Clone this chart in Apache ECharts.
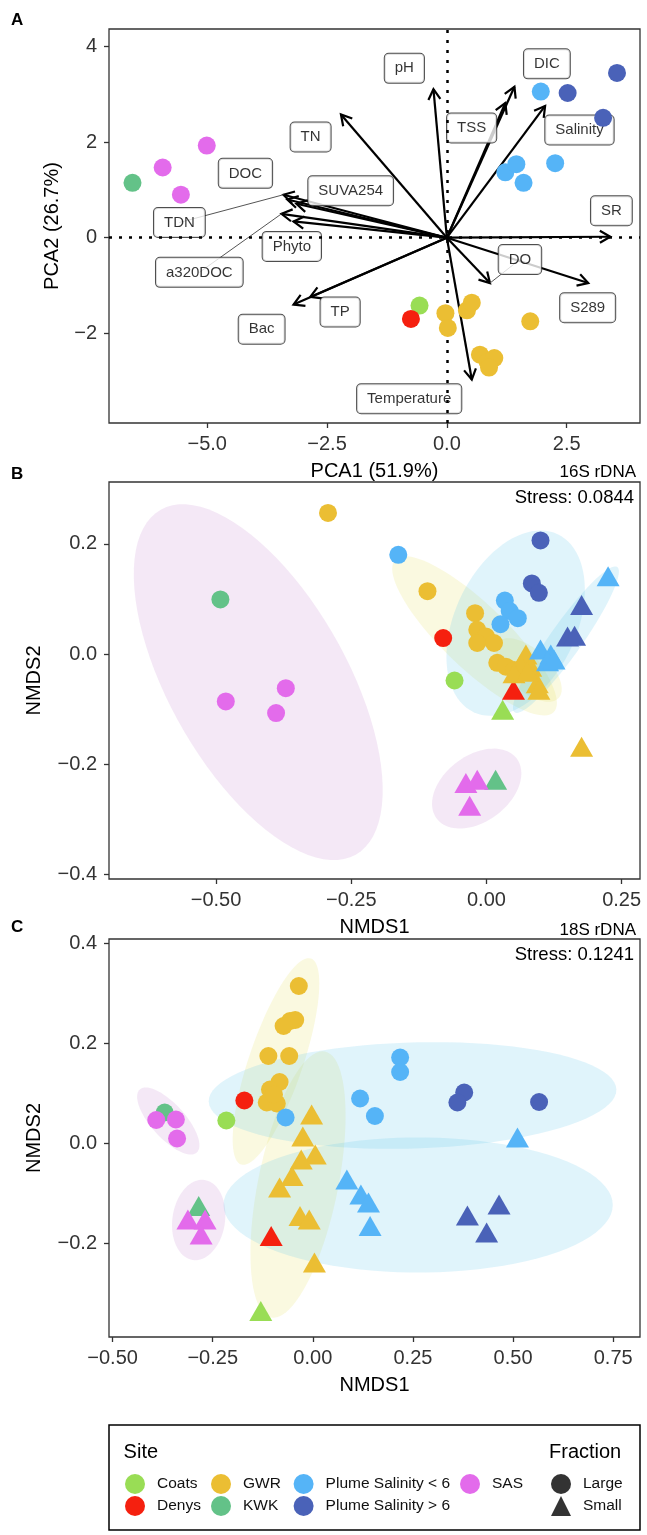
<!DOCTYPE html>
<html>
<head>
<meta charset="UTF-8">
<title>PCA / NMDS</title>
<script src="https://cdn.jsdelivr.net/npm/echarts@6/dist/echarts.min.js"></script>
<style>html,body{margin:0;padding:0;background:#fff}</style>
</head>
<body>
<div id="main" style="width:647px;height:1535px;"></div>
<script type="text/javascript">
var FONT = '"Liberation Sans", Arial, Helvetica, sans-serif';

var sites = ['Coats', 'Denys', 'GWR', 'KWK', 'Plume Salinity < 6', 'Plume Salinity > 6', 'SAS'];
var siteColors = ['#99DD55', '#F5200F', '#EBBE33', '#63C288', '#55B4F7', '#4A62B8', '#E36BEB'];
var ellipseFill = {GWR: 'rgba(230,225,100,0.2)', Plume: 'rgba(100,200,235,0.2)', SAS: 'rgba(200,140,210,0.2)'};

// ---- panel A : PCA (all Large fraction)
var aXTicks = [-5, -2.5, 0, 2.5];
var aYTicks = [-2, 0, 2, 4];
var aCoats = [[-0.57, -1.42]];
var aDenys = [[-0.75, -1.70]];
var aGWR = [[-0.03, -1.58], [0.02, -1.89], [0.42, -1.52], [0.52, -1.36], [1.74, -1.75], [0.69, -2.45], [0.85, -2.60], [0.99, -2.52], [0.88, -2.72]];
var aKWK = [[-6.56, 1.15]];
var aPlumeLow = [[1.96, 3.06], [1.22, 1.37], [1.45, 1.54], [1.60, 1.15], [2.26, 1.56]];
var aPlumeHigh = [[2.52, 3.03], [3.55, 3.45], [3.26, 2.51]];
var aSAS = [[-5.93, 1.47], [-5.55, 0.90], [-5.01, 1.93]];

var arrowNames = ['pH', 'TN', 'TSS', 'DIC', 'Salinity', 'SR', 'DO', 'S289', 'Temperature', 'TP', 'Bac', 'TDN', 'DOC', 'SUVA254', 'a320DOC', 'Phyto'];
var arrowX = [-0.28, -2.21, 1.22, 1.41, 2.05, 3.41, 0.90, 2.95, 0.52, -2.85, -3.20, -3.41, -3.33, -3.14, -3.45, -3.20];
var arrowY = [3.11, 2.58, 2.82, 3.16, 2.76, 0.02, -0.95, -0.95, -2.97, -1.24, -1.40, 0.90, 0.80, 0.71, 0.50, 0.34];
var labelX = [-0.887, -2.843, 0.517, 2.087, 2.767, 3.433, 1.525, 2.938, -0.786, -2.227, -3.865, -5.581, -4.203, -2.007, -5.165, -3.235];
var labelY = [3.546, 2.109, 2.297, 3.640, 2.255, 0.565, -0.455, -1.466, -3.372, -1.556, -1.916, 0.318, 1.347, 0.984, -0.726, -0.182];
var leaderNames = ['TDN', 'a320DOC', 'DO'];

// ---- panel B : NMDS 16S  [x, y, fraction]
var bXTicks = [-0.5, -0.25, 0, 0.25];
var bYTicks = [-0.4, -0.2, 0, 0.2];
var bCoats = [[-0.059, -0.048, 'L'], [0.030, -0.101, 'S']];
var bDenys = [[-0.080, 0.029, 'L'], [0.050, -0.065, 'S']];
var bGWR = [[-0.293, 0.256, 'L'], [-0.109, 0.114, 'L'], [-0.021, 0.074, 'L'], [-0.017, 0.044, 'L'], [-0.001, 0.032, 'L'],
    [-0.017, 0.020, 'L'], [0.014, 0.020, 'L'], [0.020, -0.016, 'L'], [0.036, -0.023, 'L'], [0.051, -0.029, 'L'],
    [0.073, -0.001, 'S'], [0.063, -0.019, 'S'], [0.082, -0.023, 'S'], [0.051, -0.035, 'S'], [0.094, -0.053, 'S'],
    [0.097, -0.065, 'S'], [0.076, -0.032, 'S'], [0.176, -0.168, 'S']];
var bKWK = [[-0.492, 0.099, 'L'], [0.017, -0.228, 'S']];
var bPlumeLow = [[-0.163, 0.180, 'L'], [0.034, 0.097, 'L'], [0.043, 0.078, 'L'], [0.058, 0.065, 'L'], [0.026, 0.054, 'L'],
    [0.100, 0.008, 'S'], [0.119, -0.001, 'S'], [0.113, -0.013, 'S'], [0.125, -0.010, 'S'], [0.225, 0.141, 'S']];
var bPlumeHigh = [[0.100, 0.206, 'L'], [0.084, 0.128, 'L'], [0.097, 0.111, 'L'],
    [0.176, 0.089, 'S'], [0.150, 0.032, 'S'], [0.163, 0.033, 'S']];
var bSAS = [[-0.482, -0.086, 'L'], [-0.371, -0.062, 'L'], [-0.389, -0.107, 'L'],
    [-0.038, -0.234, 'S'], [-0.017, -0.228, 'S'], [-0.031, -0.275, 'S']];
// ellipses: [group, cx, cy, axis1 x, axis1 y, axis2 x, axis2 y]
var bEllipses = [
    ['SAS', -0.422, -0.051, -0.1803, 0.3128, 0.1431, 0.0792],
    ['SAS', -0.018, -0.244, 0.074, 0.0544, 0.0366, -0.0479],
    ['GWR', -0.022, 0.033, 0.1466, -0.1382, 0.0411, 0.0419],
    ['GWR', 0.078, -0.029, 0.0555, -0.0508, 0.0259, 0.0272],
    ['Plume', 0.054, 0.056, 0.0777, 0.1614, 0.1017, -0.0471],
    ['Plume', 0.147, 0.026, 0.0949, 0.1318, 0.0242, -0.0167]
];

// ---- panel C : NMDS 18S
var cXTicks = [-0.5, -0.25, 0, 0.25, 0.5, 0.75];
var cYTicks = [-0.2, 0, 0.2, 0.4];
var cCoats = [[-0.216, 0.045, 'L'], [-0.130, -0.336, 'S']];
var cDenys = [[-0.171, 0.085, 'L'], [-0.104, -0.186, 'S']];
var cGWR = [[-0.035, 0.314, 'L'], [-0.057, 0.244, 'L'], [-0.044, 0.246, 'L'], [-0.073, 0.234, 'L'], [-0.111, 0.174, 'L'],
    [-0.059, 0.174, 'L'], [-0.083, 0.122, 'L'], [-0.107, 0.107, 'L'], [-0.115, 0.081, 'L'], [-0.090, 0.079, 'L'], [-0.097, 0.097, 'L'],
    [-0.003, 0.057, 'S'], [-0.025, 0.013, 'S'], [0.006, -0.023, 'S'], [-0.029, -0.033, 'S'], [-0.052, -0.066, 'S'],
    [-0.083, -0.089, 'S'], [-0.032, -0.146, 'S'], [-0.009, -0.153, 'S'], [0.004, -0.239, 'S']];
var cKWK = [[-0.370, 0.061, 'L'], [-0.285, -0.126, 'S']];
var cPlumeLow = [[-0.068, 0.051, 'L'], [0.218, 0.171, 'L'], [0.218, 0.142, 'L'], [0.118, 0.089, 'L'], [0.155, 0.054, 'L'],
    [0.511, 0.011, 'S'], [0.085, -0.073, 'S'], [0.120, -0.103, 'S'], [0.139, -0.119, 'S'], [0.143, -0.166, 'S']];
var cPlumeHigh = [[0.378, 0.101, 'L'], [0.361, 0.081, 'L'], [0.565, 0.082, 'L'],
    [0.386, -0.145, 'S'], [0.465, -0.123, 'S'], [0.434, -0.179, 'S']];
var cSAS = [[-0.391, 0.046, 'L'], [-0.342, 0.047, 'L'], [-0.339, 0.009, 'L'],
    [-0.312, -0.153, 'S'], [-0.269, -0.153, 'S'], [-0.279, -0.183, 'S']];
var cEllipses = [
    ['SAS', -0.361, 0.044, 0.0711, -0.063, 0.0314, 0.0228],
    ['SAS', -0.285, -0.154, 0.015, 0.08, 0.0649, -0.008],
    ['GWR', -0.092, 0.163, 0.0873, 0.206, 0.0639, -0.0174],
    ['GWR', -0.037, -0.083, 0.0674, 0.266, 0.0978, -0.016],
    ['Plume', 0.249, 0.095, 0.509, 0.012, 0.0037, -0.106],
    ['Plume', 0.263, -0.124, 0.486, 0, 0, 0.135]
];

var aPts = [aCoats, aDenys, aGWR, aKWK, aPlumeLow, aPlumeHigh, aSAS];
var bPts = [bCoats, bDenys, bGWR, bKWK, bPlumeLow, bPlumeHigh, bSAS];
var cPts = [cCoats, cDenys, cGWR, cKWK, cPlumeLow, cPlumeHigh, cSAS];

function fmt(v, dec) {
    return (v < 0 ? '\u2212' : '') + Math.abs(v).toFixed(dec);
}

function xAxis(gi, min, max, ticks, dec, name) {
    return {
        type: 'value', gridIndex: gi, min: min, max: max,
        name: name, nameLocation: 'middle', nameGap: 38,
        nameTextStyle: {fontFamily: FONT, fontSize: 20, color: '#000'},
        splitLine: {show: false}, axisLine: {show: false, onZero: false},
        axisTick: {show: true, length: 5, customValues: ticks, lineStyle: {color: '#333', width: 1.3}},
        axisLabel: {customValues: ticks, margin: 11, fontFamily: FONT, fontSize: 20, color: '#333',
            formatter: function (v) { return fmt(v, dec); }}
    };
}

function yAxis(gi, min, max, ticks, dec, name, gap) {
    return {
        type: 'value', gridIndex: gi, min: min, max: max,
        name: name, nameLocation: 'middle', nameGap: gap,
        nameTextStyle: {fontFamily: FONT, fontSize: 20, color: '#000'},
        splitLine: {show: false}, axisLine: {show: false, onZero: false},
        axisTick: {show: true, length: 5, customValues: ticks, lineStyle: {color: '#333', width: 1.3}},
        axisLabel: {customValues: ticks, margin: 12, fontFamily: FONT, fontSize: 20, color: '#333',
            formatter: function (v) { return fmt(v, dec); }}
    };
}

function pointSeries(si, pts, gi) {
    return {
        type: 'scatter', name: sites[si], xAxisIndex: gi, yAxisIndex: gi, z: 5, silent: true,
        itemStyle: {color: siteColors[si], opacity: 1},
        data: pts.map(function (p) {
            var small = p[2] === 'S';
            return {value: [p[0], p[1]], symbol: small ? 'triangle' : 'circle', symbolSize: small ? [23, 20] : 18};
        })
    };
}

function ellipseSeries(ells, gi) {
    return {
        type: 'custom', xAxisIndex: gi, yAxisIndex: gi, z: 1, silent: true,
        data: ells.map(function (e) { return [e[1], e[2]]; }),
        renderItem: function (params, api) {
            var e = ells[params.dataIndex];
            var pts = [];
            for (var k = 0; k < 90; k++) {
                var t = 2 * Math.PI * k / 90;
                pts.push(api.coord([e[1] + Math.cos(t) * e[3] + Math.sin(t) * e[5],
                    e[2] + Math.cos(t) * e[4] + Math.sin(t) * e[6]]));
            }
            return {type: 'polygon', shape: {points: pts}, style: {fill: ellipseFill[e[0]]}};
        }
    };
}

var series = [];

// panel A
series.push({
    type: 'custom', xAxisIndex: 0, yAxisIndex: 0, z: 2, silent: true,
    data: arrowX.map(function (x, i) { return [x, arrowY[i]]; }),
    renderItem: function (params, api) {
        var o = api.coord([0, 0]);
        var t = api.coord([api.value(0), api.value(1)]);
        var dx = t[0] - o[0], dy = t[1] - o[1], len = Math.sqrt(dx * dx + dy * dy);
        var ux = dx / len, uy = dy / len, L = 12;
        function head(a) {
            var rx = ux * Math.cos(a) - uy * Math.sin(a), ry = ux * Math.sin(a) + uy * Math.cos(a);
            return [t[0] - L * rx, t[1] - L * ry];
        }
        return {
            type: 'group', children: [
                {type: 'line', shape: {x1: o[0], y1: o[1], x2: t[0], y2: t[1]}, style: {stroke: '#000', lineWidth: 2.2}},
                {type: 'polyline', shape: {points: [head(Math.PI / 6), t, head(-Math.PI / 6)]},
                    style: {stroke: '#000', lineWidth: 2.2, fill: null}}
            ]
        };
    }
});
series.push({
    type: 'custom', xAxisIndex: 0, yAxisIndex: 0, z: 2, silent: true,
    data: leaderNames.map(function (n) {
        var i = arrowNames.indexOf(n);
        return [labelX[i], labelY[i], arrowX[i], arrowY[i]];
    }),
    renderItem: function (params, api) {
        var p1 = api.coord([api.value(0), api.value(1)]);
        var p2 = api.coord([api.value(2), api.value(3)]);
        return {type: 'line', shape: {x1: p1[0], y1: p1[1], x2: p2[0], y2: p2[1]}, style: {stroke: '#555', lineWidth: 1}};
    }
});
series.push({
    type: 'scatter', xAxisIndex: 0, yAxisIndex: 0, z: 3, silent: true,
    symbolSize: 1, itemStyle: {color: 'rgba(0,0,0,0)'},
    data: arrowNames.map(function (n, i) { return {name: n, value: [labelX[i], labelY[i]]}; }),
    label: {
        show: true, position: 'inside', formatter: '{b}',
        fontFamily: FONT, fontSize: 15, lineHeight: 15, color: '#000',
        backgroundColor: '#fff', borderColor: '#222', borderWidth: 1, borderRadius: 4, padding: [7, 10]
    },
    labelLayout: {hideOverlap: false}
});
series.push({
    type: 'scatter', xAxisIndex: 0, yAxisIndex: 0, z: 4, silent: true,
    symbolSize: 0, data: [[0, 0]],
    markLine: {
        silent: true, symbol: ['none', 'none'], label: {show: false}, animation: false,
        lineStyle: {color: '#000', type: [3, 7], width: 2.5},
        data: [{xAxis: 0}, {yAxis: 0}]
    }
});
aPts.forEach(function (p, i) { series.push(pointSeries(i, p, 0)); });

// panel B
series.push(ellipseSeries(bEllipses, 1));
bPts.forEach(function (p, i) { series.push(pointSeries(i, p, 1)); });

// panel C
series.push(ellipseSeries(cEllipses, 2));
cPts.forEach(function (p, i) { series.push(pointSeries(i, p, 2)); });

// fraction keys for the legend
series.push({type: 'scatter', name: 'Large', xAxisIndex: 2, yAxisIndex: 2, data: [], itemStyle: {color: '#000'}});
series.push({type: 'scatter', name: 'Small', xAxisIndex: 2, yAxisIndex: 2, data: [], itemStyle: {color: '#000'}});

var legendText = {fontFamily: FONT, fontSize: 15.5, color: '#111', padding: [0, 0, 0, 7]};
function legendCol(left, names) {
    return {
        left: left, top: 1474, orient: 'vertical', padding: 0, itemWidth: 20, itemHeight: 20, itemGap: 2,
        icon: 'circle', selectedMode: false, data: names, textStyle: legendText
    };
}

function txt(x, y, s, size, align, bold) {
    return {
        type: 'text', x: x, y: y, silent: true,
        style: {text: s, font: (bold ? 'bold ' : '') + size + 'px ' + FONT, fill: '#000', align: align, verticalAlign: 'middle'}
    };
}

var myChart = echarts.init(document.getElementById('main'));
myChart.setOption({
    animation: false,
    backgroundColor: '#fff',
    grid: [
        {left: 109, top: 29, width: 531, height: 394, show: true, borderColor: '#333', borderWidth: 1.3, backgroundColor: 'transparent'},
        {left: 109, top: 482, width: 531, height: 397, show: true, borderColor: '#333', borderWidth: 1.3, backgroundColor: 'transparent'},
        {left: 109, top: 939, width: 531, height: 398, show: true, borderColor: '#333', borderWidth: 1.3, backgroundColor: 'transparent'}
    ],
    xAxis: [
        xAxis(0, -7.05, 4.03, aXTicks, 1, 'PCA1 (51.9%)'),
        xAxis(1, -0.698, 0.284, bXTicks, 2, 'NMDS1'),
        xAxis(2, -0.509, 0.817, cXTicks, 2, 'NMDS1')
    ],
    yAxis: [
        yAxis(0, -3.88, 4.37, aYTicks, 0, 'PCA2 (26.7%)', 47),
        yAxis(1, -0.408, 0.312, bYTicks, 1, 'NMDS2', 65),
        yAxis(2, -0.388, 0.408, cYTicks, 1, 'NMDS2', 65)
    ],
    legend: [
        legendCol(125, ['Coats', 'Denys']),
        legendCol(211, ['GWR', 'KWK']),
        legendCol(293.6, ['Plume Salinity < 6', 'Plume Salinity > 6']),
        legendCol(460, ['SAS']),
        legendCol(551, [{name: 'Large', icon: 'circle'}, {name: 'Small', icon: 'triangle'}])
    ],
    graphic: [
        txt(11, 20, 'A', 17, 'left', true),
        txt(11, 474, 'B', 17, 'left', true),
        txt(11, 927, 'C', 17, 'left', true),
        txt(636, 472, '16S rDNA', 17, 'right'),
        txt(634, 498, 'Stress: 0.0844', 18.5, 'right'),
        txt(636, 930, '18S rDNA', 17, 'right'),
        txt(634, 955, 'Stress: 0.1241', 18.5, 'right'),
        {type: 'rect', shape: {x: 109, y: 1425, width: 531, height: 105}, style: {fill: 'transparent', stroke: '#000', lineWidth: 1.5}, silent: true},
        txt(123.6, 1452, 'Site', 20, 'left'),
        txt(549, 1452, 'Fraction', 20, 'left')
    ],
    series: series
});
</script>
</body>
</html>
